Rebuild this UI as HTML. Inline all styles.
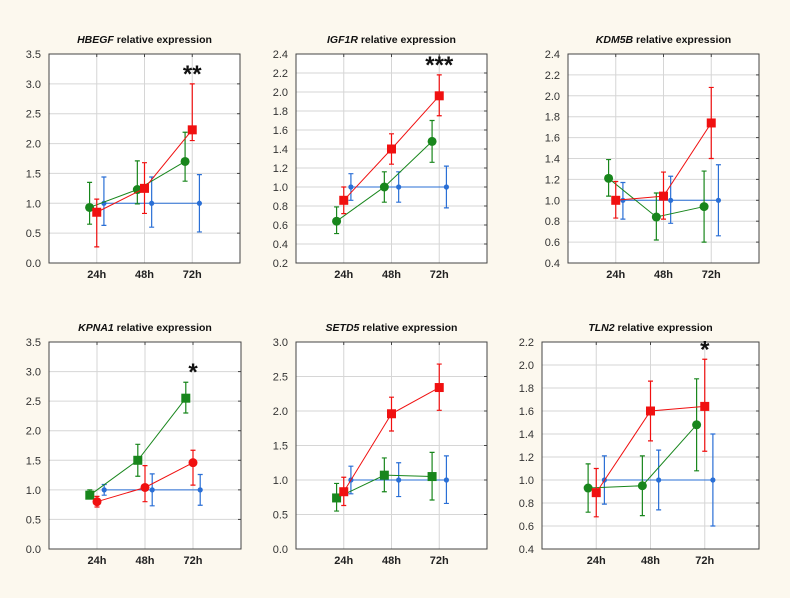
<!DOCTYPE html>
<html><head><meta charset="utf-8"><style>
html,body{margin:0;padding:0;background:#fcf8ee;}
svg{display:block;font-family:"Liberation Sans",Arial,sans-serif;}
</style></head><body>
<svg id="c" width="790" height="598" viewBox="0 0 790 598" xmlns="http://www.w3.org/2000/svg">
<rect x="0" y="0" width="790" height="598" fill="#fcf8ee"/>
</svg>
<script>
const categories = ["24h","48h","72h"];
const genes = ["HBEGF","IGF1R","KDM5B","KPNA1","SETD5","TLN2"];
const stars = ["**","***","","*","","*"];
const yMin = [0,0.2,0.4,0,0,0.4];
const yMax = [3.5,2.4,2.4,3.5,3.0,2.2];
const yStep = [0.5,0.2,0.2,0.5,0.5,0.2];
// red series: means, lower, upper
const redMean = [[0.85,1.25,2.23],[0.86,1.40,1.96],[1.0,1.04,1.74],[0.80,1.04,1.46],[0.83,1.96,2.34],[0.89,1.60,1.64]];
const redLo   = [[0.27,0.83,2.05],[0.72,1.24,1.75],[0.83,0.82,1.40],[0.71,0.80,1.08],[0.63,1.71,2.01],[0.68,1.34,1.25]];
const redHi   = [[1.07,1.68,3.00],[1.00,1.56,2.18],[1.18,1.27,2.08],[0.89,1.41,1.67],[1.04,2.20,2.68],[1.10,1.86,2.05]];
const greenMean = [[0.93,1.23,1.70],[0.64,1.00,1.48],[1.21,0.84,0.94],[0.91,1.50,2.55],[0.74,1.07,1.05],[0.93,0.95,1.48]];
const greenLo   = [[0.65,0.99,1.37],[0.51,0.84,1.26],[1.04,0.62,0.60],[0.85,1.23,2.30],[0.55,0.83,0.71],[0.72,0.69,1.08]];
const greenHi   = [[1.35,1.71,2.19],[0.79,1.16,1.70],[1.39,1.07,1.28],[1.00,1.77,2.82],[0.95,1.32,1.40],[1.14,1.21,1.88]];
const blueMean = [[1,1,1],[1,1,1],[1,1,1],[1,1,1],[1,1,1],[1,1,1]];
const blueLo   = [[0.63,0.60,0.52],[0.86,0.84,0.78],[0.82,0.78,0.66],[0.91,0.73,0.74],[0.80,0.76,0.66],[0.79,0.74,0.60]];
const blueHi   = [[1.44,1.44,1.48],[1.14,1.16,1.22],[1.17,1.23,1.34],[1.09,1.27,1.26],[1.20,1.25,1.35],[1.21,1.26,1.40]];
const redShape = ["sq","sq","sq","ci","sq","sq"];
const greenShape = ["ci","ci","ci","sq","sq","ci"];

const boxes = [[49,54,240,263],[296,54,487,263],[568,54,759,263],[49,342,241,549],[296,342,487,549],[542,342,759,549]];
const NS="http://www.w3.org/2000/svg";
const svg=document.getElementById('c');
function mk(tag,attrs,parent){const e=document.createElementNS(NS,tag);for(const k in attrs)e.setAttribute(k,attrs[k]);(parent||svg).appendChild(e);return e;}
const RED="#f01010",GREEN="#18861c",BLUE="#2a6fd6";

genes.forEach((g,p)=>{
  const [L,T,R,B]=boxes[p];
  const grp=mk('g',{});
  
  
  const xs=c=>L+(R-L)*(c+1)/4;
  const ys=v=>B-(v-yMin[p])/(yMax[p]-yMin[p])*(B-T);
  mk('rect',{x:L,y:T,width:R-L,height:B-T,fill:'#fff'},grp);
  // title
  const t=mk('text',{x:(L+R)/2,y:T-11,'text-anchor':'middle','font-size':'10.5','font-weight':'bold',fill:'#111'},grp);
  
  
  const ti=mk('tspan',{'font-style':'italic'},t);ti.textContent=g;
  const tr=mk('tspan',{},t);tr.textContent=' relative expression';
  // y grid & ticks
  const n=Math.round((yMax[p]-yMin[p])/yStep[p]);
  for(let i=0;i<=n;i++){
    const v=yMin[p]+i*yStep[p];const y=ys(v);
    if(i>0&&i<n) mk('line',{x1:L,x2:R,y1:y,y2:y,stroke:'#d6d6d6','stroke-width':1},grp);
    mk('line',{x1:R-3,x2:R,y1:y,y2:y,stroke:'#444'},grp);
    const lb=mk('text',{x:L-8,y:y+4,'text-anchor':'end','font-size':'11',fill:'#333'},grp);
    
    
    lb.textContent=v.toFixed(1);
  }
  categories.forEach((c,i)=>{
    const x=xs(i);
    mk('line',{x1:x,x2:x,y1:T,y2:B,stroke:'#d6d6d6'},grp);
    mk('line',{x1:x,x2:x,y1:T,y2:T+3,stroke:'#444'},grp);
    const lb=mk('text',{x:x,y:B+15,'text-anchor':'middle','font-size':'11','font-weight':'bold',fill:'#222'},grp);
    
    
    lb.textContent=c;
  });
  mk('rect',{x:L,y:T,width:R-L,height:B-T,fill:'none',stroke:'#444','stroke-width':1},grp);
  const series=[
    {name:'blue',col:BLUE,off:0.15,m:blueMean[p],lo:blueLo[p],hi:blueHi[p],shape:'dot'},
    {name:'green',col:GREEN,off:-0.15,m:greenMean[p],lo:greenLo[p],hi:greenHi[p],shape:greenShape[p]},
    {name:'red',col:RED,off:0,m:redMean[p],lo:redLo[p],hi:redHi[p],shape:redShape[p]}
  ];
  series.forEach(s=>{
    const sx=i=>L+(R-L)*(i+1+s.off)/4;
    const pts=s.m.map((v,i)=>sx(i)+','+ys(v)).join(' ');
    const pl=mk('polyline',{points:pts,fill:'none',stroke:s.col,'stroke-width':1},grp);
    
    
    s.m.forEach((v,i)=>{
      const x=sx(i);
      const eb=mk('path',{d:`M${x},${ys(s.lo[i])}V${ys(s.hi[i])}M${x-2.5},${ys(s.lo[i])}H${x+2.5}M${x-2.5},${ys(s.hi[i])}H${x+2.5}`,stroke:s.col,'stroke-width':1.2,fill:'none'},grp);
      
      
      let mkr;
      if(s.shape==='sq') mkr=mk('rect',{x:x-4.5,y:ys(v)-4.5,width:9,height:9,fill:s.col},grp);
      else if(s.shape==='ci') mkr=mk('circle',{cx:x,cy:ys(v),r:4.5,fill:s.col},grp);
      else mkr=mk('circle',{cx:x,cy:ys(v),r:2.6,fill:s.col},grp);
      
      
    });
  });
  if(stars[p]){
    const top=Math.max(redHi[p][2],greenHi[p][2]);
    const st=mk('text',{x:xs(2),y:ys(top)-2,'text-anchor':'middle','font-size':'24','font-weight':'bold',fill:'#111'},grp);
    
    
    st.textContent=stars[p];
  }
});
</script>
</body></html>
